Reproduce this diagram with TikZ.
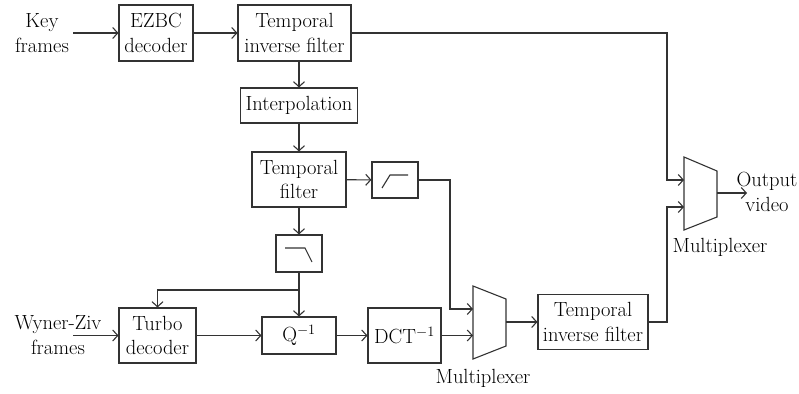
\RequirePackage{fix-cm}
\documentclass[tikz,border=0pt]{standalone}
\usetikzlibrary{arrows.meta,calc}
\newcommand{\dfs}{\fontsize{20.5}{24.5}\selectfont}
\begin{document}
\begin{tikzpicture}[x=1pt,y=-1pt,
  line width=1.1pt,
  >={Straight Barb[length=5pt,width=11pt]},
  ln/.style={draw=black!80, line width=1.1pt},
  blk/.style={draw=black!80, line width=1.1pt, inner sep=0pt, align=center, font=\dfs, text=black},
  lbl/.style={inner sep=0pt, align=center, font=\dfs, text=black},
  conn/.style={ln, ->}]
\path[use as bounding box] (0,0) rectangle (799,393);
% boxes
\node[blk, minimum width=74pt, minimum height=56pt] (ezbc) at (156,33) {EZBC\\decoder};
\node[blk, minimum width=113pt, minimum height=56pt] (tif1) at (294.5,33) {Temporal\\inverse filter};
\node[blk, minimum width=117pt, minimum height=35pt] (interp) at (299,105.5) {Interpolation};
\node[blk, minimum width=94pt, minimum height=55pt] (tf) at (299,179.5) {Temporal\\filter};
\node[blk, minimum width=46pt, minimum height=36pt] (hp) at (395,180) {};
\node[blk, minimum width=46pt, minimum height=37pt] (lp) at (299,253.5) {};
\node[blk, minimum width=77pt, minimum height=55pt] (turbo) at (157.5,335.5) {Turbo\\decoder};
\node[blk, minimum width=74pt, minimum height=37pt] (q) at (299,335.5) {Q$^{-1}$};
\node[blk, minimum width=73pt, minimum height=55pt] (dct) at (404.5,335.5) {DCT$^{-1}$};
\node[blk, minimum width=110pt, minimum height=55pt] (tif2) at (593,322) {Temporal\\inverse filter};
% filter symbols
\draw[ln] ($(hp.center)+(-13,8)$) -- ($(hp.center)+(-5,-5)$) -- ($(hp.center)+(13,-5)$);
\draw[ln] ($(lp.center)+(-14,-5.5)$) -- ($(lp.center)+(6,-5.5)$) -- ($(lp.center)+(13,8.5)$);
% labels
\node[lbl] (keytxt) at (42,33) {Key\\frames};
\node[lbl] (wztxt) at (58,335) {Wyner-Ziv\\frames};
\node[lbl] (outtxt) at (767,192) {Output\\video};
\node[lbl] (m1lbl) at (483,378) {Multiplexer};
\node[lbl] (m2lbl) at (720,247) {Multiplexer};
% multiplexers
\draw[ln] (473,286) -- (506,299) -- (506,346) -- (473,359) -- cycle;
\draw[ln] (684,157) -- (717,171) -- (717,217) -- (684,230) -- cycle;
\coordinate (m1a) at (473,309);
\coordinate (m1b) at (473,336);
\coordinate (m1o) at (506,322);
\coordinate (m2a) at (684,180);
\coordinate (m2b) at (684,207);
\coordinate (m2o) at (717,193);
\coordinate (oend) at (747,193);
\coordinate (kin) at (73,33);
\coordinate (wzin) at (73,335.5);
\coordinate (rx) at (667,0);
\coordinate (hx) at (450,0);
\coordinate (jn) at (299,290);
% connectors
\draw[conn] (kin) -- (ezbc.west);
\draw[conn] (ezbc) -- (tif1);
\draw[conn] (tif1.east) -- (tif1.east -| rx) -- (m2a -| rx) -- (m2a);
\draw[conn] (interp.north |- tif1.south) -- (interp.north);
\draw[conn] (interp) -- (tf);
\draw[conn] (tf) -- (hp);
\draw[conn] (hp.east) -- (hp.east -| hx) -- (m1a -| hx) -- (m1a);
\draw[conn] (tf) -- (lp);
\draw[conn] (lp.south) -- (q.north);
\draw[conn] (jn) -| (turbo.north);
\draw[conn] (wzin) -- (turbo.west);
\draw[conn] (turbo) -- (q);
\draw[conn] (q) -- (dct);
\draw[conn] (dct.east) -- (dct.east -| m1b);
\draw[conn] (m1o) -- (m1o -| tif2.west);
\draw[conn] (tif2.east) -- (tif2.east -| rx) -- (m2b -| rx) -- (m2b);
\draw[conn] (m2o) -- (oend);
\end{tikzpicture}
\end{document}
